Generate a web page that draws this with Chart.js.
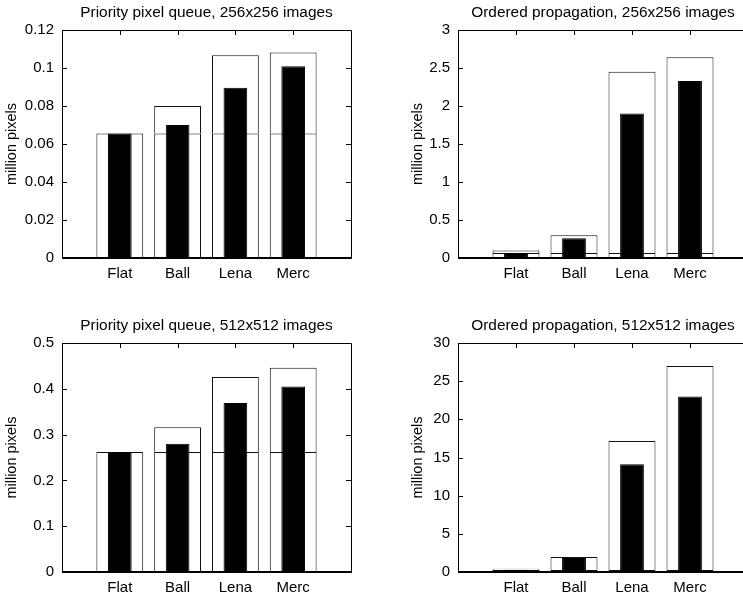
<!DOCTYPE html>
<html><head><meta charset="utf-8">
<script src="https://cdn.jsdelivr.net/npm/chart.js@4"></script>
<style>
html,body{margin:0;padding:0;background:#fff;overflow:hidden;width:743px;height:594px;}
.p{position:absolute;}
</style></head><body>
<div class="p" style="left:0;top:0;width:372px;height:297px"><canvas id="c1"></canvas></div>
<div class="p" style="left:372px;top:0;width:400px;height:297px"><canvas id="c2"></canvas></div>
<div class="p" style="left:0;top:297px;width:372px;height:297px"><canvas id="c3"></canvas></div>
<div class="p" style="left:372px;top:297px;width:400px;height:297px"><canvas id="c4"></canvas></div>
<script>
// ---- data ----
const categories = ['Flat', 'Ball', 'Lena', 'Merc'];
const yAxisLabel = 'million pixels';

const pq256Title = 'Priority pixel queue, 256x256 images';
const pq256Base = 0.065536;
const pq256Total = [0.0655, 0.080, 0.1067, 0.1082];
const pq256Black = [0.0655, 0.070, 0.0896, 0.1009];
const pq256Ticks = [0, 0.02, 0.04, 0.06, 0.08, 0.1, 0.12];

const op256Title = 'Ordered propagation, 256x256 images';
const op256Base = 0.065536;
const op256Total = [0.10, 0.30, 2.45, 2.64];
const op256Black = [0.0655, 0.26, 1.90, 2.33];
const op256Ticks = [0, 0.5, 1, 1.5, 2, 2.5, 3];

const pq512Title = 'Priority pixel queue, 512x512 images';
const pq512Base = 0.262144;
const pq512Total = [0.262, 0.316, 0.426, 0.446];
const pq512Black = [0.262, 0.280, 0.369, 0.405];
const pq512Ticks = [0, 0.1, 0.2, 0.3, 0.4, 0.5];

const op512Title = 'Ordered propagation, 512x512 images';
const op512Base = 0.262144;
const op512Total = [0.43, 1.97, 17.17, 27.0];
const op512Black = [0.30, 1.84, 14.1, 23.0];
const op512Ticks = [0, 5, 10, 15, 20, 25, 30];

Chart.defaults.font.family = "'Liberation Sans', Arial, Helvetica, sans-serif";
Chart.defaults.color = '#000';

const framePlugin = {
  id: 'frame',
  beforeDatasetsDraw(chart) {
    const {ctx, chartArea: a, scales: {x, y}} = chart;
    ctx.save();
    ctx.strokeStyle = '#000';
    ctx.lineWidth = 1;
    ctx.beginPath();
    y.ticks.forEach(t => {
      const py = Math.round(y.getPixelForValue(t.value)) + 0.5;
      ctx.moveTo(a.left, py); ctx.lineTo(a.left + 5, py);
      ctx.moveTo(a.right, py); ctx.lineTo(a.right - 5, py);
    });
    categories.forEach((c, i) => {
      const px = Math.round(x.getPixelForValue(i + 1)) + 0.5;
      ctx.moveTo(px, a.top); ctx.lineTo(px, a.top + 5);
    });
    ctx.stroke();
    ctx.restore();
  },
  afterDatasetsDraw(chart) {
    const {ctx, chartArea: a} = chart;
    const l = Math.round(a.left) + 0.5, r = Math.round(a.right) + 0.5, t = Math.round(a.top) + 0.5, b = Math.round(a.bottom);
    ctx.save();
    ctx.strokeStyle = '#000';
    ctx.lineWidth = 1;
    ctx.beginPath();
    ctx.moveTo(l, b); ctx.lineTo(l, t); ctx.lineTo(r, t); ctx.lineTo(r, b);
    ctx.stroke();
    ctx.lineWidth = 2;
    ctx.beginPath();
    ctx.moveTo(l - 0.5, b); ctx.lineTo(r + 0.5, b);
    ctx.stroke();
    ctx.restore();
  }
};

function fmt(v) { return String(Number(v.toFixed(6))); }

function makeChart(id, title, totals, blacks, base, yTicks, g) {
  const barCommon = {borderWidth: 1, categoryPercentage: 1, grouped: false};
  new Chart(document.getElementById(id), {
    type: 'bar',
    data: {
      datasets: [
        Object.assign({label: 'black', data: blacks.map((v, i) => ({x: i + 1, y: v})),
          backgroundColor: '#000', borderColor: '#000', barPercentage: 0.41, stack: 'b', borderSkipped: false}, barCommon),
        Object.assign({label: 'base', data: totals.map((v, i) => ({x: i + 1, y: Math.min(base, v)})),
          backgroundColor: '#fff', borderColor: '#111', barPercentage: 0.81, stack: 'w', borderSkipped: false}, barCommon),
        Object.assign({label: 'extra', data: totals.map((v, i) => ({x: i + 1, y: Math.max(0, v - base)})),
          backgroundColor: '#fff', borderColor: '#111', barPercentage: 0.81, stack: 'w', borderSkipped: 'bottom'}, barCommon)
      ]
    },
    options: {
      responsive: true, maintainAspectRatio: false, animation: false,
      layout: {padding: {top: g.padTop, right: g.padRight, left: 0, bottom: 0}},
      plugins: {
        legend: {display: false}, tooltip: {enabled: false},
        title: {display: true, text: title, fullSize: false, color: '#000',
          font: {size: 15.4, weight: 'normal', lineHeight: 1}, padding: {top: 5, bottom: 30 - 5 - 15.4}}
      },
      scales: {
        x: {
          type: 'linear', min: 0, max: 5, offset: false,
          grid: {display: false, drawTicks: false, offset: false}, border: {display: false},
          ticks: {stepSize: 1, padding: 7, maxRotation: 0, autoSkip: false, font: {size: 15},
            callback: v => (v >= 1 && v <= categories.length ? categories[v - 1] : '')},
          afterFit(s) { s.height = g.xHeight; }
        },
        y: {
          stacked: true, min: yTicks[0], max: yTicks[yTicks.length - 1],
          grid: {display: false, drawTicks: false}, border: {display: false},
          afterBuildTicks(s) { s.ticks = yTicks.map(v => ({value: v})); },
          ticks: {padding: 8, font: {size: 15}, callback: v => fmt(v)},
          title: {display: true, text: yAxisLabel, font: {size: 14.5}, padding: {top: g.yTitleX - 8.7, bottom: 0}},
          afterFit(s) { s.width = g.yWidth; }
        }
      }
    },
    plugins: [framePlugin]
  });
}

makeChart('c1', pq256Title, pq256Total, pq256Black, pq256Base, pq256Ticks,
  {padTop: 0, padRight: 21, xHeight: 39, yWidth: 62, yTitleX: 12});
makeChart('c2', op256Title, op256Total, op256Black, op256Base, op256Ticks,
  {padTop: 0, padRight: 24, xHeight: 39, yWidth: 86, yTitleX: 46});
makeChart('c3', pq512Title, pq512Total, pq512Black, pq512Base, pq512Ticks,
  {padTop: 16, padRight: 21, xHeight: 22, yWidth: 62, yTitleX: 12});
makeChart('c4', op512Title, op512Total, op512Black, op512Base, op512Ticks,
  {padTop: 16, padRight: 24, xHeight: 22, yWidth: 86, yTitleX: 46});
</script>
</body></html>
